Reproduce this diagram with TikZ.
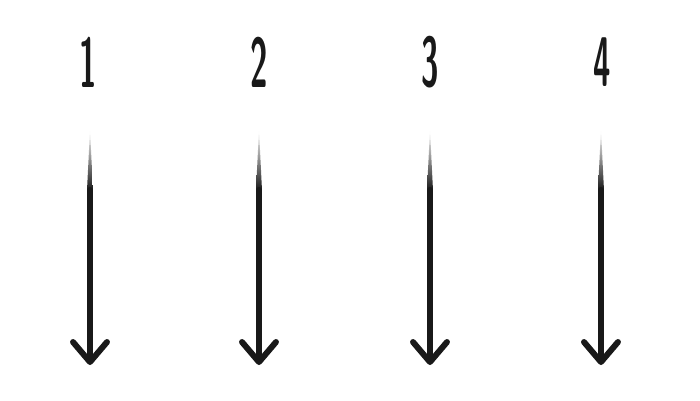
\documentclass[tikz,border=0pt]{standalone}
\usetikzlibrary{positioning,calc,arrows.meta}
\newcommand{\narrow}[1]{\scalebox{0.45}[1]{#1}}
\begin{document}
\begin{tikzpicture}[num/.style={font=\fontsize{20}{20}\selectfont\sffamily\bfseries, inner sep=0pt, black!90},
  shaft/.style={line width=1.7pt, black!90, line cap=round,
    -{Straight Barb[length=2mm,width=3.4mm,round]}},
  fade/.style={top color=white, bottom color=black!90}]
\useasboundingbox (0,0) rectangle (7,4);
\node[num] (n1) at (0.88,3.38) {\narrow{1}};
\node[num] (n2) at (2.59,3.38) {\narrow{2}};
\node[num] (n3) at (4.30,3.38) {\narrow{3}};
\node[num] (n4) at (6.02,3.38) {\narrow{4}};
% arrow 1
\coordinate[below=0.68 of n1.center, xshift=0.02cm] (t1);
\coordinate[below=1.28 of n1.center, xshift=0.02cm] (s1);
\coordinate[below=3.03 of n1.center, xshift=0.02cm] (e1);
\shade[fade] (t1) -- ($(s1)+(-0.85pt,0)$) -- ($(s1)+(0.85pt,0)$) -- cycle;
\draw[shaft] (s1) -- (e1);
% arrow 2
\coordinate[below=0.68 of n2.center] (t2);
\coordinate[below=1.28 of n2.center] (s2);
\coordinate[below=3.03 of n2.center] (e2);
\shade[fade] (t2) -- ($(s2)+(-0.85pt,0)$) -- ($(s2)+(0.85pt,0)$) -- cycle;
\draw[shaft] (s2) -- (e2);
% arrow 3
\coordinate[below=0.68 of n3.center] (t3);
\coordinate[below=1.28 of n3.center] (s3);
\coordinate[below=3.03 of n3.center] (e3);
\shade[fade] (t3) -- ($(s3)+(-0.85pt,0)$) -- ($(s3)+(0.85pt,0)$) -- cycle;
\draw[shaft] (s3) -- (e3);
% arrow 4
\coordinate[below=0.68 of n4.center, xshift=-0.01cm] (t4);
\coordinate[below=1.28 of n4.center, xshift=-0.01cm] (s4);
\coordinate[below=3.03 of n4.center, xshift=-0.01cm] (e4);
\shade[fade] (t4) -- ($(s4)+(-0.85pt,0)$) -- ($(s4)+(0.85pt,0)$) -- cycle;
\draw[shaft] (s4) -- (e4);
\end{tikzpicture}
\end{document}
